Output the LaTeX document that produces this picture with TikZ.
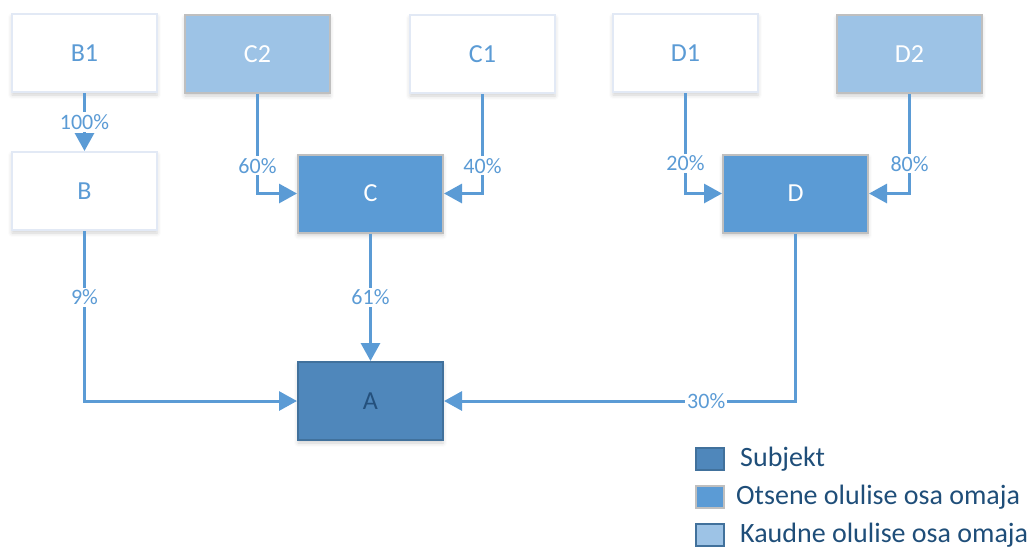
\documentclass[tikz,border=0pt]{standalone}
\usepackage{fontspec}
\setmainfont{Carlito}
\usetikzlibrary{arrows.meta, positioning, shadows.blur}

\definecolor{lightblue}{HTML}{9DC3E6}
\definecolor{midblue}{HTML}{5B9BD5}
\definecolor{darkblue}{HTML}{4F87BB}
\definecolor{darkline}{HTML}{41719C}
\definecolor{subjtext}{HTML}{24507C}
\definecolor{legtext}{HTML}{1F4E79}
\definecolor{paleline}{HTML}{E2E9F5}
\definecolor{grayline}{HTML}{BFBFBF}

\tikzset{
	box/.style={minimum width=145pt, minimum height=78pt, inner sep=0pt, line width=2pt,
		font=\fontsize{26}{30}\selectfont,
		blur shadow={shadow xshift=0pt, shadow yshift=-3pt, shadow blur radius=4pt, shadow opacity=18}},
	owner/.style={box, fill=white, draw=paleline, text=midblue},
	indirect/.style={box, fill=lightblue, draw=grayline, text=white},
	direct/.style={box, fill=midblue, draw=grayline, text=white},
	subject/.style={box, fill=darkblue, draw=darkline, text=subjtext},
	link/.style={line width=3pt, draw=midblue, -{Triangle[length=18pt,width=19pt]}},
	pct/.style={fill=white, text=midblue, inner sep=2pt, font=\fontsize{22}{26}\selectfont},
	legsq/.style={minimum width=28pt, minimum height=22pt, inner sep=0pt, line width=2pt},
	legtxt/.style={text=legtext, inner sep=0pt, font=\fontsize{28}{32}\selectfont}
}

\begin{document}
\begin{tikzpicture}[x=1pt,y=-1pt]
	\useasboundingbox (0,0) rectangle (1032,550);

	% top row
	\node[owner] (b1) at (84.5,53) {B1};
	\node[indirect] (c2) at (257.5,54) {C2};
	\node[owner] (c1) at (482.5,54) {C1};
	\node[owner] (d1) at (685.5,53) {D1};
	\node[indirect] (d2) at (909.5,54) {D2};

	% middle row
	\node[owner] (b) at (84.5,191) {B};
	\node[direct] (c) at (370.5,193.5) {C};
	\node[direct] (d) at (795.5,193.5) {D};

	% subject
	\node[subject] (a) at (370.5,401) {A};

	% shares
	\draw[link] (b1) -- node[pct] {100\%} (b);
	\draw[link] (c2.south) |- node[pct, pos=0.36] {60\%} (c.west);
	\draw[link] (c1.south) |- node[pct, pos=0.36] {40\%} (c.east);
	\draw[link] (d1.south) |- node[pct, pos=0.35] {20\%} (d.west);
	\draw[link] (d2.south) |- node[pct, pos=0.35] {80\%} (d.east);
	\draw[link] (b.south) |- node[pct, pos=0.195] {9\%} (a.west);
	\draw[link] (c) -- node[pct] {61\%} (a);
	\draw[link] (d.south) |- node[pct, pos=0.627] {30\%} (a.east);

	% legend
	\node[legsq, fill=darkblue, draw=darkline] (ksubj) at (710,459) {};
	\node[legtxt, right=15pt of ksubj] {Subjekt};
	\node[legsq, fill=midblue, draw=grayline] (kdir) at (710,497) {};
	\node[legtxt, right=11pt of kdir] {Otsene olulise osa omaja};
	\node[legsq, fill=lightblue, draw=darkline] (kind) at (710,535) {};
	\node[legtxt, right=15pt of kind] {Kaudne olulise osa omaja};
\end{tikzpicture}
\end{document}
